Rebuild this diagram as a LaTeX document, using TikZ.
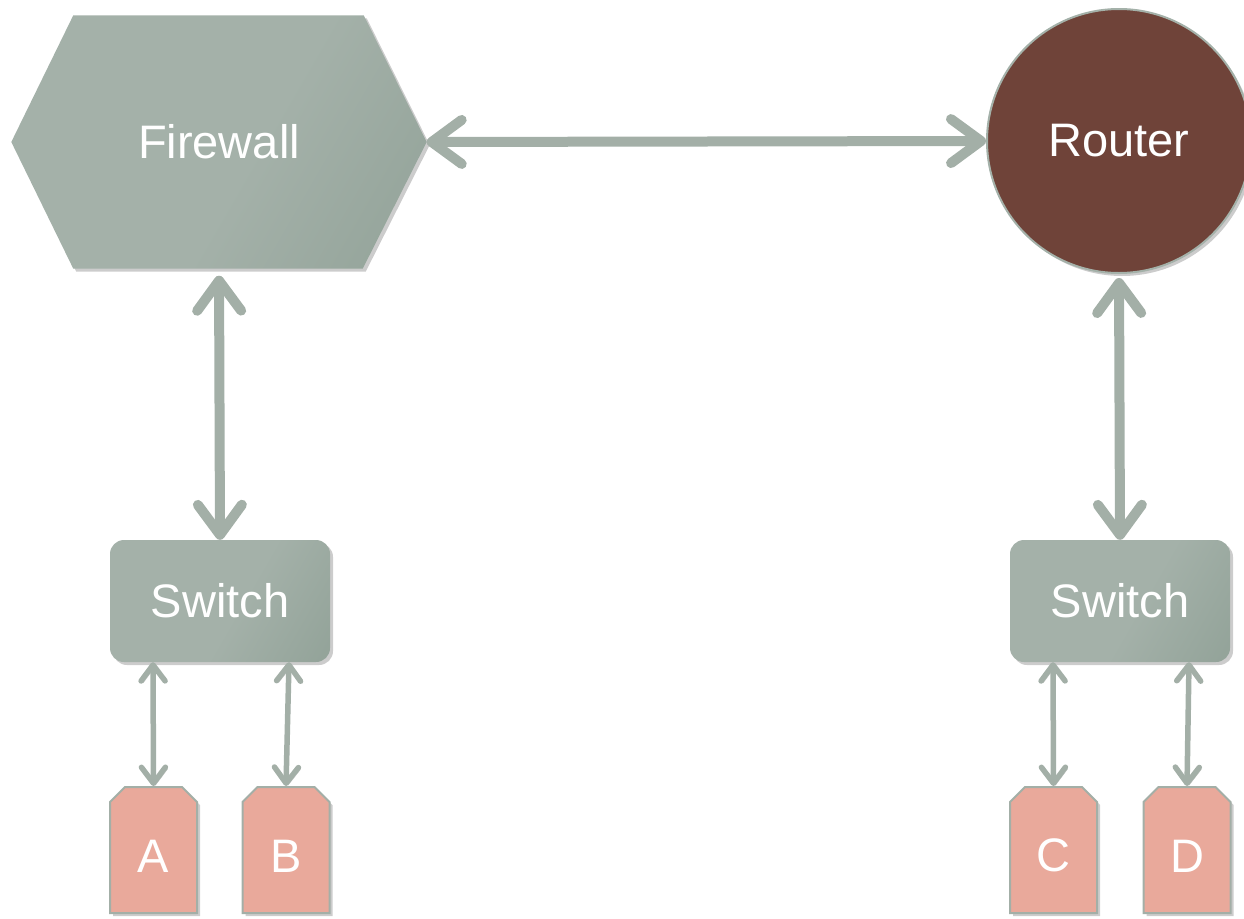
\documentclass[tikz,border=0pt]{standalone}
\usepackage{fontspec}
\setmainfont{Liberation Sans}
\usetikzlibrary{arrows.meta,shapes.misc,shadows}
\pgfdeclarelayer{background}
\pgfsetlayers{background,main}

\definecolor{slate}{HTML}{A4B1A9}
\definecolor{slatedark}{HTML}{899B90}
\definecolor{wire}{HTML}{A3AFA7}
\definecolor{routerfill}{HTML}{6F4339}
\definecolor{hostfill}{HTML}{E9A99B}

% light grey-green body that darkens towards one corner
\pgfdeclarehorizontalshading{slateshade}{100bp}{color(0bp)=(slate); color(55bp)=(slate); color(100bp)=(slatedark)}

\tikzset{
  bigtip/.tip={Straight Barb[length=30pt,width=44pt,line cap=round,line join=round]},
  smalltip/.tip={Straight Barb[length=16pt,width=24pt,line cap=round,line join=round]},
  softshadow/.style={drop shadow={shadow xshift=3pt,shadow yshift=-3pt,opacity=0.4}},
  wireshadow/.style={preaction={draw=black,draw opacity=0.22,transform canvas={shift={(2pt,-2pt)}}}},
  bigwire/.style={draw=wire,line width=10pt,arrows={bigtip-bigtip},wireshadow},
  smallwire/.style={draw=wire,line width=5.5pt,arrows={smalltip-smalltip},wireshadow},
  labeltext/.style={text=white,font=\fontsize{47}{56}\selectfont},
  slatebody/.style={shading=slateshade,shading angle=-30,softshadow},
  switchbox/.style={labeltext,shade,slatebody,rounded corners=14pt,
    minimum width=220pt,minimum height=122pt},
  hostbox/.style={labeltext,chamfered rectangle,
    chamfered rectangle corners={north west,north east},
    chamfered rectangle xsep=7.5pt,chamfered rectangle ysep=7.5pt,
    fill=hostfill,draw=wire,line width=2pt,softshadow,
    minimum width=87pt,minimum height=126pt,text height=44pt,inner sep=0pt},
}

\begin{document}
\begin{tikzpicture}[x=1pt,y=-1pt]
\useasboundingbox (0,0) rectangle (1244,918);

% firewall: text node, hexagonal body behind it
\node[labeltext,minimum width=415pt,minimum height=253pt] (fw) at (219,142) {Firewall};
\begin{pgfonlayer}{background}
  \shade[slatebody] (fw.west) -- ([xshift=62pt]fw.north west) -- ([xshift=-63pt]fw.north east)
    -- (fw.east) -- ([xshift=-64pt]fw.south east) -- ([xshift=62pt]fw.south west) -- cycle;
\end{pgfonlayer}

% router
\node[labeltext,circle,minimum size=264pt,fill=routerfill,draw=slate,line width=2pt,softshadow]
  (rt) at (1119,141) {Router};

% switches
\node[switchbox] (sw1) at (220,601) {Switch};
\node[switchbox] (sw2) at (1120,601) {Switch};

% hosts
\node[hostbox] (a) at (153.5,850) {A};
\node[hostbox] (b) at (286,850) {B};
\node[hostbox] (c) at (1053.5,850) {C};
\node[hostbox] (d) at (1187,850) {D};

% links
\draw[bigwire] (fw.east) -- (rt.west);
\draw[bigwire,shorten <=7pt] (fw.south) -- (sw1.north);
\draw[bigwire,shorten <=4pt] (rt.south) -- (sw2.north);
\draw[smallwire] ([xshift=-67pt]sw1.south) -- (a.north);
\draw[smallwire] ([xshift=69pt]sw1.south) -- (b.north);
\draw[smallwire] ([xshift=-67pt]sw2.south) -- (c.north);
\draw[smallwire] ([xshift=69pt]sw2.south) -- (d.north);
\end{tikzpicture}
\end{document}
